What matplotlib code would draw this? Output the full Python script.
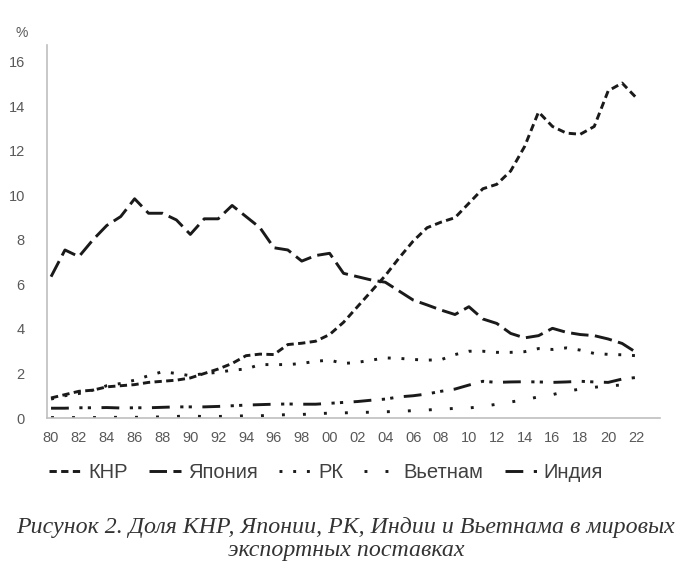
import matplotlib
matplotlib.use('Agg')
import matplotlib.pyplot as plt
from matplotlib.lines import Line2D

# --- data (share of world exports, %) ---
years = list(range(1980, 2023))
tick_labels = [f"{y % 100:02d}" for y in years[::2]]

china = [0.9, 1.05, 1.2, 1.25, 1.4, 1.45, 1.5, 1.6, 1.65, 1.7,
         1.8, 2.0, 2.2, 2.45, 2.8, 2.87, 2.85, 3.3, 3.36, 3.45,
         3.75, 4.3, 5.0, 5.7, 6.4, 7.2, 7.95, 8.55, 8.8, 9.0,
         9.65, 10.3, 10.5, 11.1, 12.2, 13.75, 13.1, 12.8, 12.75, 13.1,
         14.7, 15.05, 14.4]
japan = [6.35, 7.55, 7.25, 8.0, 8.65, 9.05, 9.85, 9.2, 9.2, 8.9,
         8.25, 8.95, 8.95, 9.55, 9.05, 8.55, 7.65, 7.55, 7.05, 7.3,
         7.4, 6.5, 6.35, 6.2, 6.1, 5.7, 5.3, 5.08, 4.85, 4.65,
         5.0, 4.45, 4.25, 3.8, 3.6, 3.7, 4.03, 3.85, 3.75, 3.7,
         3.55, 3.35, 2.95]
korea = [0.85, 1.0, 1.1, 1.25, 1.45, 1.55, 1.7, 1.9, 2.08, 2.0,
         1.9, 2.0, 2.05, 2.15, 2.2, 2.4, 2.4, 2.4, 2.45, 2.55,
         2.6, 2.45, 2.5, 2.6, 2.7, 2.68, 2.63, 2.6, 2.62, 2.85,
         3.0, 3.0, 2.95, 2.95, 2.98, 3.12, 3.08, 3.15, 3.05, 2.9,
         2.86, 2.84, 2.8]
vietnam = [0.02, 0.02, 0.02, 0.02, 0.03, 0.03, 0.03, 0.04, 0.05, 0.07,
           0.1, 0.06, 0.07, 0.08, 0.1, 0.1, 0.13, 0.15, 0.16, 0.19,
           0.22, 0.23, 0.25, 0.26, 0.28, 0.3, 0.33, 0.36, 0.4, 0.43,
           0.45, 0.52, 0.62, 0.72, 0.82, 0.95, 1.05, 1.2, 1.3, 1.38,
           1.45, 1.48, 1.52]
india = [0.44, 0.44, 0.46, 0.46, 0.47, 0.45, 0.46, 0.46, 0.48, 0.5,
         0.5, 0.5, 0.52, 0.55, 0.58, 0.6, 0.62, 0.63, 0.62, 0.62,
         0.66, 0.7, 0.74, 0.8, 0.85, 0.95, 1.0, 1.08, 1.2, 1.3,
         1.48, 1.65, 1.6, 1.62, 1.63, 1.62, 1.6, 1.62, 1.65, 1.62,
         1.6, 1.75, 1.82]

series = [
    ("КНР",     china,   (0, (2.5, 1.5))),
    ("Япония",  japan,   (0, (6.0, 2.2))),
    ("РК",      korea,   (0, (1.0, 3.7))),
    ("Вьетнам", vietnam, (0, (1.0, 6.2))),
    ("Индия",   india,   (0, (6.1, 3.6, 1.1, 1.8, 1.1, 3.6))),
]

plt.rcParams['font.family'] = ['Liberation Sans Narrow', 'Liberation Sans', 'DejaVu Sans']

fig = plt.figure(figsize=(6.85, 5.74), dpi=100)
ax = fig.add_axes([47 / 685, 1 - 418 / 574, 613 / 685, 373 / 574])

for name, vals, ls in series:
    ax.plot(years, vals, color='#1a1a1a', lw=2.1, linestyle=ls,
            solid_capstyle='butt', dash_capstyle='butt', label=name)

ax.set_xlim(1979.71, 2023.72)
ax.set_ylim(0, 16.76)
ax.set_xticks(years[::2])
ax.set_xticklabels(tick_labels)
ax.set_yticks(range(0, 17, 2))

for side in ('top', 'right'):
    ax.spines[side].set_visible(False)
for side in ('left', 'bottom'):
    ax.spines[side].set_color('#bfbfbf')
    ax.spines[side].set_linewidth(1.2)
ax.tick_params(axis='both', length=0, colors='#595959', labelsize=10.5)
ax.tick_params(axis='y', pad=16)
ax.tick_params(axis='x', pad=9)

fig.text(22 / 685, 1 - 33 / 574, "%", ha='center', va='center',
         fontsize=10, color='#595959')

handles = [Line2D([], [], color='#1a1a1a', lw=2.1, linestyle=ls,
                  dash_capstyle='butt') for _, _, ls in series]
fig.legend(handles, [s[0] for s in series], loc='center',
           bbox_to_anchor=(326 / 685, 1 - 473 / 574), ncol=5, frameon=False,
           fontsize=14.5, handlelength=1.6, handletextpad=0.35,
           columnspacing=1.05, labelcolor='#404040')

caption = ("Рисунок 2. Доля КНР, Японии, РК, Индии и Вьетнама в мировых\n"
           "экспортных поставках")
fig.text(346 / 685, 1 - 539 / 574, caption, ha='center', va='center',
         fontsize=17.2, style='italic', color='#333333',
         family=['Liberation Serif', 'DejaVu Serif'], linespacing=1.12)

fig.savefig("out.png", dpi=100)
